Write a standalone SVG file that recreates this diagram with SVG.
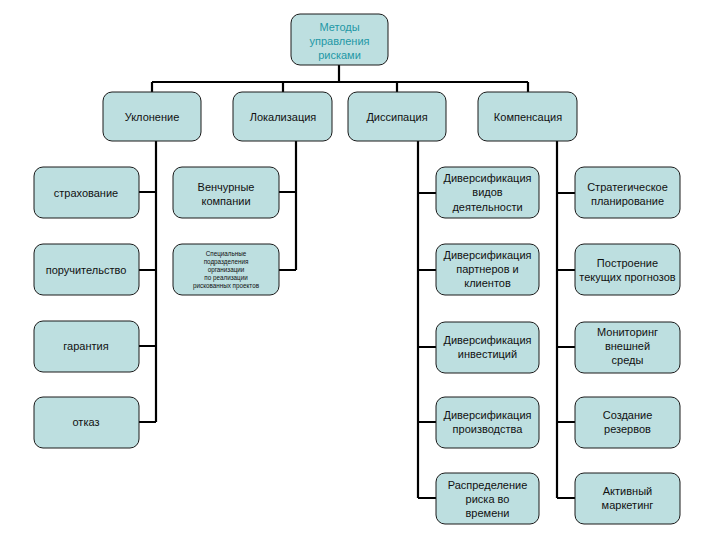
<svg xmlns="http://www.w3.org/2000/svg" width="720" height="540" viewBox="0 0 720 540">
<style>
.box{fill:#bddfe0;stroke:#1a1a1a;stroke-width:1}
.t{font-family:"Liberation Sans",Arial,sans-serif;font-size:11px;fill:#111;text-anchor:middle}
.top{fill:#1f98a6}
.s{font-size:6.3px}
.c{fill:none;stroke:#000;stroke-width:2.2}
</style>
<rect width="720" height="540" fill="#fff"/>
<g id="connectors">
<path class="c" d="M339 65V82M152 82H528M152 82V92M283 82V92M397 82V92M528 82V92"/>
<path class="c" d="M156 141V422M139 192H156M139 270H156M139 346H156M139 422H156"/>
<path class="c" d="M296 141V270M279 192H296M279 270H296"/>
<path class="c" d="M418 141V498M418 193H436M418 270H436M418 347H436M418 422H436M418 498H436"/>
<path class="c" d="M557 141V498M557 193H575M557 270H575M557 347H575M557 422H575M557 498H575"/>
</g>
<g id="root"><rect class="box" x="291" y="14" width="97" height="51" rx="9"/>
<text class="t top" x="339.5" y="31">Методы</text><text class="t top" x="339.5" y="45">управления</text><text class="t top" x="339.5" y="59">рисками</text></g>
<g id="uklonenie"><rect class="box" x="103" y="92" width="98" height="49" rx="9"/><text class="t" x="152" y="121">Уклонение</text></g>
<g id="lokalizatsiya"><rect class="box" x="233" y="92" width="99" height="49" rx="9"/><text class="t" x="283" y="121">Локализация</text></g>
<g id="dissipatsiya"><rect class="box" x="348" y="92" width="98" height="49" rx="9"/><text class="t" x="397" y="121">Диссипация</text></g>
<g id="kompensatsiya"><rect class="box" x="478" y="92" width="99" height="49" rx="9"/><text class="t" x="528" y="121">Компенсация</text></g>

<g id="strakhovanie"><rect class="box" x="34" y="167" width="105" height="51" rx="9"/><text class="t" x="86" y="197">страхование</text></g>
<g id="poruchitelstvo"><rect class="box" x="34" y="244" width="105" height="51" rx="9"/><text class="t" x="86" y="274">поручительство</text></g>
<g id="garantiya"><rect class="box" x="34" y="321" width="105" height="51" rx="9"/><text class="t" x="86" y="350">гарантия</text></g>
<g id="otkaz"><rect class="box" x="34" y="397" width="105" height="51" rx="9"/><text class="t" x="86" y="426">отказ</text></g>

<g id="venchurnye"><rect class="box" x="173" y="167" width="106" height="51" rx="9"/><text class="t" x="226" y="191">Венчурные</text><text class="t" x="226" y="205">компании</text></g>
<g id="spetsialnye"><rect class="box" x="173" y="244" width="106" height="51" rx="9"/>
<text class="t s" x="226" y="256">Специальные</text><text class="t s" x="226" y="264">подразделения</text><text class="t s" x="226" y="272">организации</text><text class="t s" x="226" y="280">по реализации</text><text class="t s" x="226" y="288">рискованных проектов</text></g>

<g id="div-vidov"><rect class="box" x="436" y="167" width="103" height="51" rx="9"/><text class="t" x="487.5" y="182">Диверсификация</text><text class="t" x="487.5" y="196">видов</text><text class="t" x="487.5" y="211">деятельности</text></g>
<g id="div-partnerov"><rect class="box" x="436" y="244" width="103" height="51" rx="9"/><text class="t" x="487.5" y="259">Диверсификация</text><text class="t" x="487.5" y="273">партнеров и</text><text class="t" x="487.5" y="287">клиентов</text></g>
<g id="div-investitsiy"><rect class="box" x="436" y="322" width="103" height="51" rx="9"/><text class="t" x="487.5" y="344">Диверсификация</text><text class="t" x="487.5" y="358">инвестиций</text></g>
<g id="div-proizvodstva"><rect class="box" x="436" y="397" width="103" height="51" rx="9"/><text class="t" x="487.5" y="419">Диверсификация</text><text class="t" x="487.5" y="433">производства</text></g>
<g id="raspredelenie"><rect class="box" x="436" y="473" width="103" height="51" rx="9"/><text class="t" x="487.5" y="489">Распределение</text><text class="t" x="487.5" y="503">риска во</text><text class="t" x="487.5" y="517">времени</text></g>

<g id="strategicheskoe"><rect class="box" x="575" y="167" width="105" height="51" rx="9"/><text class="t" x="627.5" y="191">Стратегическое</text><text class="t" x="627.5" y="205">планирование</text></g>
<g id="postroenie"><rect class="box" x="575" y="244" width="105" height="51" rx="9"/><text class="t" x="627.5" y="267">Построение</text><text class="t" x="627.5" y="281">текущих прогнозов</text></g>
<g id="monitoring"><rect class="box" x="575" y="322" width="105" height="51" rx="9"/><text class="t" x="627.5" y="336">Мониторинг</text><text class="t" x="627.5" y="350">внешней</text><text class="t" x="627.5" y="364">среды</text></g>
<g id="sozdanie"><rect class="box" x="575" y="397" width="105" height="51" rx="9"/><text class="t" x="627.5" y="419">Создание</text><text class="t" x="627.5" y="433">резервов</text></g>
<g id="aktivny"><rect class="box" x="575" y="473" width="105" height="51" rx="9"/><text class="t" x="627.5" y="495">Активный</text><text class="t" x="627.5" y="509">маркетинг</text></g>
</svg>
